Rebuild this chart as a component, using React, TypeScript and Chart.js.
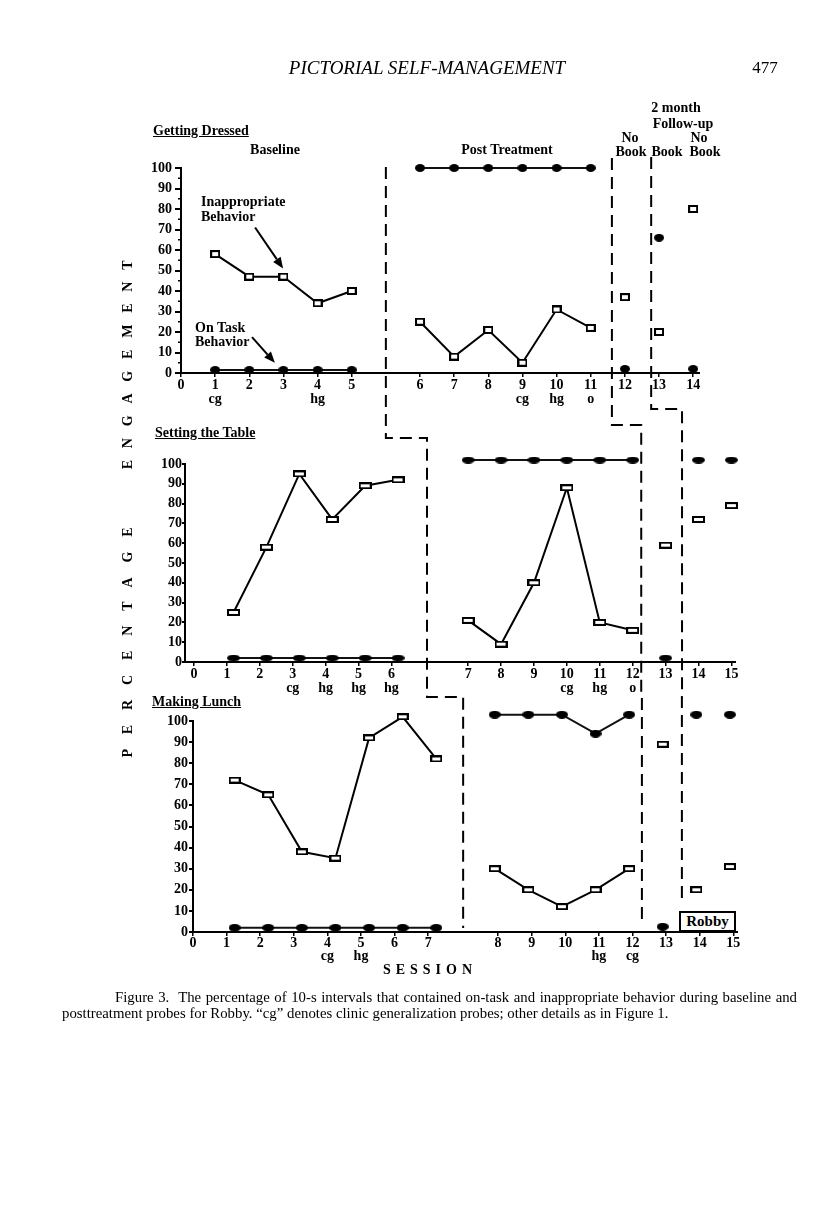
import React, { useEffect, useRef } from 'react';
import { Chart, registerables } from 'chart.js';

Chart.register(...registerables);

// ================= DATA =================
const yTickValues = [0, 10, 20, 30, 40, 50, 60, 70, 80, 90, 100];
const yMinorValues = [5, 15, 25, 35, 45, 55, 65, 75, 85, 95];

// Getting Dressed
const dressSessions = [1, 2, 3, 4, 5, 6, 7, 8, 9, 10, 11, 12, 13, 14];
const dressPhases = ['baseline', 'baseline', 'baseline', 'baseline', 'baseline', 'post', 'post', 'post', 'post', 'post', 'post', 'noBook', 'book', 'noBook2'];
const dressInappropriate = [58, 47, 47, 34, 40, 25, 8, 21, 5, 31, 22, 37, 20, 80];
const dressOnTask = [1.5, 1.5, 1.5, 1.5, 1.5, 100, 100, 100, 100, 100, 100, 2, 66, 2];
const dressTickSessions = [0, 1, 2, 3, 4, 5, 6, 7, 8, 9, 10, 11, 12, 13, 14];
const dressTickNotes = ['', 'cg', '', '', 'hg', '', '', '', '', 'cg', 'hg', 'o', '', '', ''];

// Setting the Table
const tableSessions = [1, 2, 3, 4, 5, 6, 7, 8, 9, 10, 11, 12, 13, 14, 15];
const tablePhases = ['baseline', 'baseline', 'baseline', 'baseline', 'baseline', 'baseline', 'post', 'post', 'post', 'post', 'post', 'post', 'noBook', 'book', 'noBook2'];
const tableInappropriate = [25, 58, 95, 72, 89, 92, 21, 9, 40, 88, 20, 16, 59, 72, 79];
const tableOnTask = [2, 2, 2, 2, 2, 2, 102, 102, 102, 102, 102, 102, 2, 102, 102];
const tableTickSessions = [0, 1, 2, 3, 4, 5, 6, 7, 8, 9, 10, 11, 12, 13, 14, 15];
const tableTickNotes = ['', '', '', 'cg', 'hg', 'hg', 'hg', '', '', '', 'cg', 'hg', 'o', '', '', ''];

// Making Lunch
const lunchSessions = [1, 2, 3, 4, 5, 6, 7, 8, 9, 10, 11, 12, 13, 14, 15];
const lunchPhases = ['baseline', 'baseline', 'baseline', 'baseline', 'baseline', 'baseline', 'baseline', 'post', 'post', 'post', 'post', 'post', 'noBook', 'book', 'noBook2'];
const lunchInappropriate = [72, 65, 38, 35, 92, 102, 82, 30, 20, 12, 20, 30, 89, 20, 31];
const lunchOnTask = [2, 2, 2, 2, 2, 2, 2, 103, 103, 103, 94, 103, 2.5, 103, 103];
const lunchTickSessions = [0, 1, 2, 3, 4, 5, 6, 7, 8, 9, 10, 11, 12, 13, 14, 15];
const lunchTickNotes = ['', '', '', '', 'cg', 'hg', '', '', '', '', '', 'hg', 'cg', '', '', ''];

// ================= LAYOUT =================
const PAGE_W = 816;
const PAGE_H = 1205;
const X_AXIS_H = 40;
const SERIF = "'Liberation Serif', 'Times New Roman', Times, serif";

const dressLayout = { left: 181, right: 700, zeroY: 373, unitY: 2.05, yMax: 104, xMin: 0, xMax: 15.2, firstPost: 6, postGap: 1, baseShift: 0, postShift: 0, yTickLen: 6, yLabelPad: 3, lineH: 14, minor: true, rect: [10, 8], dot: [10, 8] };
const tableLayout = { left: 185, right: 736, zeroY: 662, unitY: 1.98, yMax: 104, xMin: -0.274, xMax: 16.47, firstPost: 7, postGap: 1.33, baseShift: 0.2, postShift: 0, yTickLen: 3, yLabelPad: 0, lineH: 14, minor: false, rect: [13, 7], dot: [13, 7] };
const lunchLayout = { left: 193, right: 738, zeroY: 932, unitY: 2.11, yMax: 105, xMin: 0, xMax: 16.22, firstPost: 8, postGap: 1.08, baseShift: 0.24, postShift: -0.1, yTickLen: 4, yLabelPad: 1, lineH: 13, minor: false, rect: [12, 7], dot: [12, 8] };

// phase-change lines: x values on each panel's own x scale, y in page px
const phasePaths = [
  { xs: [6, 7.08, 8.04], ys: [167, 438, 697, 928] },
  { xs: [12.62, 13.59, 13.36], ys: [158, 425, 697, 920] },
  { xs: [13.77, 14.83, 14.55], ys: [157, 409, 697, 900] },
];

// annotation arrows in panel 1 (data coords)
const arrowNotes = [
  { from: [2.17, 71], to: [2.99, 51] },
  { from: [2.08, 17.5], to: [2.75, 5] },
];

function sessionPos(s: number, lay: any) {
  return s >= lay.firstPost ? s + lay.postGap : s;
}

function rectMarker(w: number, h: number) {
  const c = document.createElement('canvas');
  c.width = w; c.height = h;
  const g = c.getContext('2d')!;
  g.fillStyle = '#fff';
  g.fillRect(0, 0, w, h);
  g.strokeStyle = '#000';
  g.lineWidth = 2;
  g.strokeRect(1, 1, w - 2, h - 2);
  return c;
}

function dotMarker(w: number, h: number) {
  const c = document.createElement('canvas');
  c.width = w; c.height = h;
  const g = c.getContext('2d')!;
  g.fillStyle = '#000';
  g.beginPath();
  g.ellipse(w / 2, h / 2, w / 2, h / 2, 0, 0, Math.PI * 2);
  g.fill();
  return c;
}

function seriesDatasets(panel: any, values: number[], marker: any, color: string) {
  const lay = panel.layout;
  const groups: { phase: string; pts: { x: number; y: number }[] }[] = [];
  panel.sessions.forEach((s: number, i: number) => {
    const ph = panel.phases[i];
    let g = groups.find((q) => q.phase === ph);
    if (!g) { g = { phase: ph, pts: [] }; groups.push(g); }
    const shift = ph === 'baseline' ? lay.baseShift : lay.postShift;
    g.pts.push({ x: sessionPos(s, lay) + shift, y: values[i] });
  });
  return groups.map((g) => ({
    data: g.pts,
    showLine: g.pts.length > 1,
    borderColor: color,
    borderWidth: 2,
    backgroundColor: 'transparent',
    fill: false,
    tension: 0,
    pointStyle: marker,
    pointRadius: 5,
    clip: false,
  }));
}

function axisPlugin(lay: any) {
  return {
    id: 'axesLines',
    beforeDatasetsDraw(chart: any) {
      const { ctx, chartArea, scales } = chart;
      const y0 = scales.y.getPixelForValue(0);
      const y100 = scales.y.getPixelForValue(100);
      ctx.save();
      ctx.strokeStyle = '#000';
      ctx.lineWidth = 2;
      ctx.beginPath();
      ctx.moveTo(chartArea.left, y0 + 1);
      ctx.lineTo(chartArea.left, y100 - 1);
      ctx.moveTo(chartArea.left - 1, y0);
      ctx.lineTo(chartArea.right, y0);
      ctx.stroke();
      if (lay.minor) {
        ctx.lineWidth = 1.5;
        ctx.beginPath();
        yMinorValues.forEach((v) => {
          const py = scales.y.getPixelForValue(v);
          ctx.moveTo(chartArea.left - 3, py);
          ctx.lineTo(chartArea.left, py);
        });
        ctx.stroke();
      }
      ctx.restore();
    },
  };
}

const arrowPlugin = {
  id: 'arrows',
  afterDraw(chart: any) {
    const { ctx, scales } = chart;
    ctx.save();
    ctx.strokeStyle = '#000';
    ctx.fillStyle = '#000';
    ctx.lineWidth = 2;
    arrowNotes.forEach((a) => {
      const x1 = scales.x.getPixelForValue(a.from[0]);
      const y1 = scales.y.getPixelForValue(a.from[1]);
      const x2 = scales.x.getPixelForValue(a.to[0]);
      const y2 = scales.y.getPixelForValue(a.to[1]);
      const ang = Math.atan2(y2 - y1, x2 - x1);
      const hl = 11, hw = 4.5;
      const bx = x2 - hl * Math.cos(ang), by = y2 - hl * Math.sin(ang);
      ctx.beginPath();
      ctx.moveTo(x1, y1);
      ctx.lineTo(bx, by);
      ctx.stroke();
      ctx.beginPath();
      ctx.moveTo(x2, y2);
      ctx.lineTo(bx + hw * Math.sin(ang), by - hw * Math.cos(ang));
      ctx.lineTo(bx - hw * Math.sin(ang), by + hw * Math.cos(ang));
      ctx.closePath();
      ctx.fill();
    });
    ctx.restore();
  },
};

function phasePlugin(holder: any) {
  return {
    id: 'phaseLines',
    afterDraw(chart: any) {
      if (!holder.c1 || !holder.c2) return;
      const charts = [holder.c1, holder.c2, chart];
      const ctx = chart.ctx;
      ctx.save();
      ctx.strokeStyle = '#000';
      ctx.lineWidth = 2;
      ctx.setLineDash([12, 7]);
      phasePaths.forEach((p) => {
        const X = p.xs.map((v, i) => charts[i].scales.x.getPixelForValue(v));
        ctx.beginPath();
        ctx.moveTo(X[0], p.ys[0]);
        ctx.lineTo(X[0], p.ys[1]);
        ctx.lineTo(X[1], p.ys[1]);
        ctx.lineTo(X[1], p.ys[2]);
        ctx.lineTo(X[2], p.ys[2]);
        ctx.lineTo(X[2], p.ys[3]);
        ctx.stroke();
      });
      ctx.restore();
    },
  };
}

function makeConfig(panel: any, extraPlugins: any[]) {
  const lay = panel.layout;
  const font = { family: SERIF, size: 14, weight: 'bold', lineHeight: lay.lineH / 14 };
  const tickPos = panel.tickSessions.map((s: number) => sessionPos(s, lay));
  const labels = panel.tickSessions.map((s: number, i: number) =>
    panel.tickNotes[i] ? [String(s), panel.tickNotes[i]] : String(s)
  );
  const rect = rectMarker(lay.rect[0], lay.rect[1]);
  const dot = dotMarker(lay.dot[0], lay.dot[1]);
  return {
    type: 'line',
    data: {
      datasets: [
        ...seriesDatasets(panel, panel.onTask, dot, '#111'),
        ...seriesDatasets(panel, panel.inappropriate, rect, '#000'),
      ],
    },
    options: {
      responsive: false,
      animation: false,
      events: [],
      layout: {
        padding: {
          left: 0,
          right: PAGE_W - lay.right,
          top: lay.zeroY - lay.yMax * lay.unitY,
          bottom: PAGE_H - lay.zeroY - X_AXIS_H,
        },
      },
      plugins: { legend: { display: false }, tooltip: { enabled: false }, title: { display: false } },
      scales: {
        x: {
          type: 'linear',
          min: lay.xMin,
          max: lay.xMax,
          afterFit: (s: any) => { s.height = X_AXIS_H; },
          afterBuildTicks: (s: any) => { s.ticks = tickPos.map((v: number) => ({ value: v })); },
          ticks: {
            autoSkip: false,
            maxRotation: 0,
            minRotation: 0,
            color: '#000',
            font,
            padding: 1,
            callback: (_v: any, i: number) => labels[i],
          },
          grid: { display: true, drawOnChartArea: false, drawTicks: true, tickLength: 4, color: '#000', lineWidth: 1.5 },
          border: { display: false },
        },
        y: {
          type: 'linear',
          min: 0,
          max: lay.yMax,
          afterFit: (s: any) => { s.width = lay.left; },
          afterBuildTicks: (s: any) => { s.ticks = yTickValues.map((v) => ({ value: v })); },
          ticks: {
            color: '#000',
            font: { family: SERIF, size: 14, weight: 'bold', lineHeight: 1 },
            padding: lay.yLabelPad,
            callback: (v: any) => String(v),
          },
          grid: { display: true, drawOnChartArea: false, drawTicks: true, tickLength: lay.yTickLen, color: '#000', lineWidth: 2 },
          border: { display: false },
        },
      },
    },
    plugins: [axisPlugin(lay), ...extraPlugins],
  };
}

const panelDress = { sessions: dressSessions, phases: dressPhases, inappropriate: dressInappropriate, onTask: dressOnTask, tickSessions: dressTickSessions, tickNotes: dressTickNotes, layout: dressLayout };
const panelTable = { sessions: tableSessions, phases: tablePhases, inappropriate: tableInappropriate, onTask: tableOnTask, tickSessions: tableTickSessions, tickNotes: tableTickNotes, layout: tableLayout };
const panelLunch = { sessions: lunchSessions, phases: lunchPhases, inappropriate: lunchInappropriate, onTask: lunchOnTask, tickSessions: lunchTickSessions, tickNotes: lunchTickNotes, layout: lunchLayout };

function Txt(props: { x: number; y: number; text: string; size?: number; bold?: boolean; italic?: boolean; anchor?: 'middle' | 'start'; underline?: boolean; spacing?: number }) {
  const { x, y, text, size = 14, bold = true, italic = false, anchor = 'middle', underline = false, spacing = 0 } = props;
  const style: any = {
    position: 'absolute',
    left: x,
    top: y,
    fontFamily: SERIF,
    fontSize: size,
    fontWeight: bold ? 700 : 400,
    fontStyle: italic ? 'italic' : 'normal',
    lineHeight: 1,
    whiteSpace: 'nowrap',
    transform: anchor === 'middle' ? 'translate(-50%,-50%)' : 'translate(0,-50%)',
    textDecoration: underline ? 'underline' : 'none',
    letterSpacing: spacing,
    color: '#000',
  };
  return <div style={style}>{text}</div>;
}

function VWord(props: { x: number; y: number; text: string; spacing: number }) {
  const { x, y, text, spacing } = props;
  return (
    <div
      style={{
        position: 'absolute',
        left: x,
        top: y - spacing / 2,
        transform: 'translate(-50%,-50%) rotate(-90deg)',
        fontFamily: SERIF,
        fontWeight: 700,
        fontSize: 14,
        lineHeight: 1,
        letterSpacing: spacing,
        whiteSpace: 'nowrap',
        color: '#000',
      }}
    >
      {text}
    </div>
  );
}

export default function App() {
  const r1 = useRef<HTMLCanvasElement>(null);
  const r2 = useRef<HTMLCanvasElement>(null);
  const r3 = useRef<HTMLCanvasElement>(null);

  useEffect(() => {
    const holder: any = {};
    holder.c1 = new Chart(r1.current as any, makeConfig(panelDress, [arrowPlugin]) as any);
    holder.c2 = new Chart(r2.current as any, makeConfig(panelTable, []) as any);
    holder.c3 = new Chart(r3.current as any, makeConfig(panelLunch, [phasePlugin(holder)]) as any);
    return () => {
      holder.c1 && holder.c1.destroy();
      holder.c2 && holder.c2.destroy();
      holder.c3 && holder.c3.destroy();
    };
  }, []);

  const cv: any = { position: 'absolute', left: 0, top: 0, width: PAGE_W, height: PAGE_H };

  return (
    <div style={{ position: 'absolute', left: 0, top: 0, width: PAGE_W, height: PAGE_H, background: '#fff', overflow: 'hidden' }}>
      <canvas ref={r1} width={PAGE_W} height={PAGE_H} style={cv} />
      <canvas ref={r2} width={PAGE_W} height={PAGE_H} style={cv} />
      <canvas ref={r3} width={PAGE_W} height={PAGE_H} style={cv} />

      <Txt x={427} y={67} text="PICTORIAL SELF-MANAGEMENT" size={19} bold={false} italic />
      <Txt x={765} y={67} text="477" size={17} bold={false} />

      <Txt x={153} y={131} text="Getting Dressed" anchor="start" underline />
      <Txt x={275} y={150} text="Baseline" />
      <Txt x={507} y={150} text="Post Treatment" />
      <Txt x={676} y={108} text="2 month" />
      <Txt x={683} y={124} text="Follow-up" />
      <Txt x={630} y={138} text="No" />
      <Txt x={631} y={152} text="Book" />
      <Txt x={667} y={152} text="Book" />
      <Txt x={699} y={138} text="No" />
      <Txt x={705} y={152} text="Book" />
      <Txt x={201} y={202} text="Inappropriate" anchor="start" />
      <Txt x={201} y={217} text="Behavior" anchor="start" />
      <Txt x={195} y={328} text="On Task" anchor="start" />
      <Txt x={195} y={342} text="Behavior" anchor="start" />

      <Txt x={155} y={433} text="Setting the Table" anchor="start" underline />
      <Txt x={152} y={702} text="Making Lunch" anchor="start" underline />

      <VWord x={128} y={365} text="ENGAGEMENT" spacing={11.8} />
      <VWord x={128} y={642} text="PERCENTAGE" spacing={14.9} />

      <Txt x={430} y={970} text="SESSION" spacing={5} />

      <div
        style={{
          position: 'absolute',
          left: 679,
          top: 911,
          width: 57,
          height: 21,
          boxSizing: 'border-box',
          border: '2px solid #000',
          background: '#fff',
          fontFamily: SERIF,
          fontWeight: 700,
          fontSize: 15,
          lineHeight: '17px',
          textAlign: 'center',
          color: '#000',
        }}
      >
        Robby
      </div>

      <div
        style={{
          position: 'absolute',
          left: 115,
          top: 989,
          width: 682,
          fontFamily: SERIF,
          fontSize: 14.8,
          lineHeight: '16px',
          textAlign: 'justify',
          textAlignLast: 'justify',
          color: '#000',
        } as any}
      >
        Figure 3.&nbsp; The percentage of 10-s intervals that contained on-task and inappropriate behavior during baseline and
      </div>
      <div
        style={{
          position: 'absolute',
          left: 62,
          top: 1005,
          fontFamily: SERIF,
          fontSize: 14.8,
          lineHeight: '16px',
          whiteSpace: 'nowrap',
          color: '#000',
        }}
      >
        posttreatment probes for Robby. “cg” denotes clinic generalization probes; other details as in Figure 1.
      </div>
    </div>
  );
}
